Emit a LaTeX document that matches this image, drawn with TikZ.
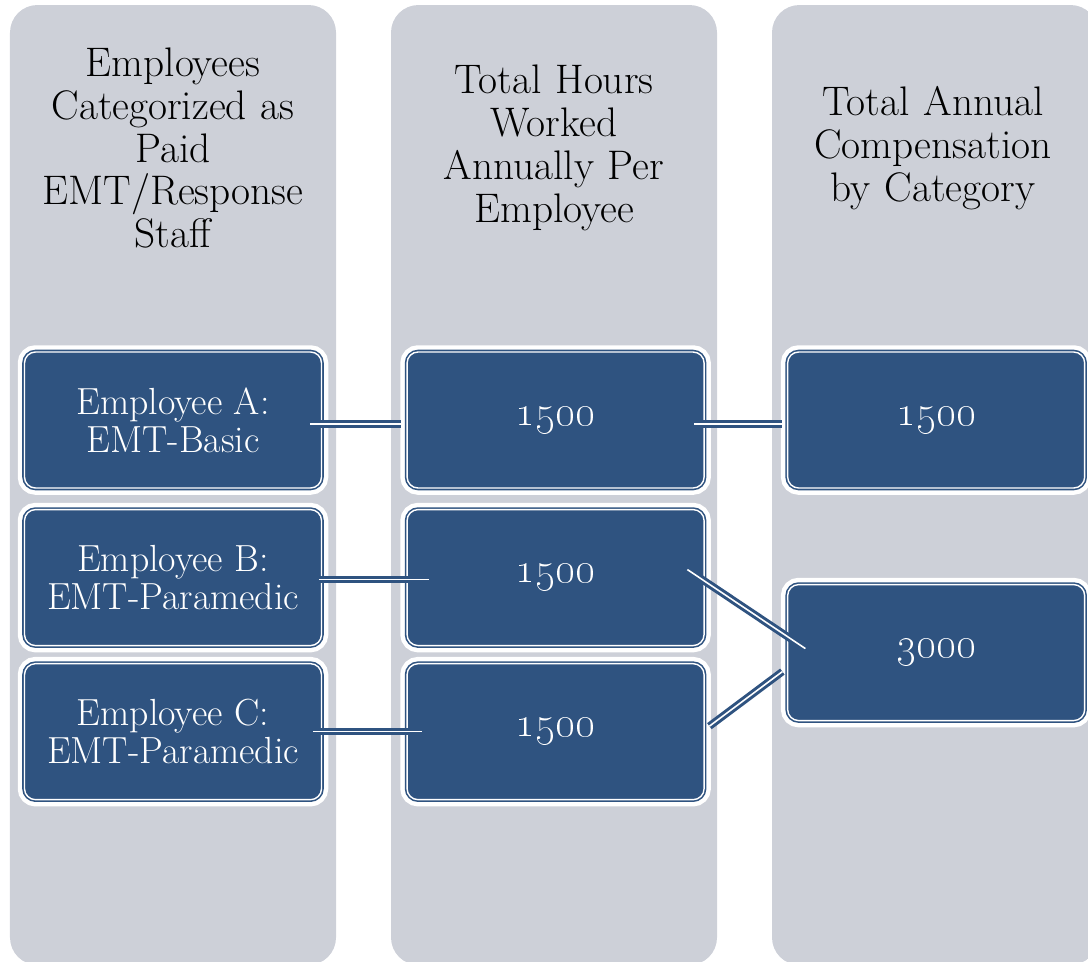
\documentclass[tikz,border=0pt]{standalone}
\usetikzlibrary{positioning}
\definecolor{boxblue}{RGB}{47,83,128}
\definecolor{colgray}{RGB}{205,208,216}
\tikzset{
    column/.style={fill=colgray, rounded corners=0.55cm},
    header/.style={align=center, text width=6.4cm, font=\fontsize{23.5}{24.4}\selectfont},
    item/.style={draw=boxblue, double=white, double distance=0.8pt, line width=0.9pt,
        fill=boxblue, rounded corners=0.22cm, minimum width=5.94cm, minimum height=2.72cm,
        text=white, align=center, font=\fontsize{21.5}{21.5}\selectfont,
        preaction={draw=white, line width=0.27cm}},
    num/.style={item, font=\fontsize{24}{24}\selectfont},
    link/.style={draw=boxblue, double=white, double distance=0.9pt, line width=1.7pt}
}
\begin{document}
\begin{tikzpicture}
    \useasboundingbox (0,0) rectangle (21.76,-19.22);
    \fill[column] (0.2,-0.1) rectangle (6.72,-19.3);
    \fill[column] (7.82,-0.1) rectangle (14.34,-19.3);
    \fill[column] (15.44,-0.1) rectangle (21.96,-19.3);

    \node(h1) [header] at (3.46,-2.96) {Employees\\Categorized as\\Paid\\EMT/Response\\Staff};
    \node(h2) [header] at (11.08,-2.96) {Total Hours\\Worked\\Annually Per\\Employee};
    \node(h3) [header] at (18.66,-2.96) {Total Annual\\Compensation\\by Category};

    \node(a) [item] at (3.46,-8.4) {Employee A:\\EMT-Basic};
    \node(b) [item, below=0.4cm of a] {Employee B:\\EMT-Paramedic};
    \node(c) [item, below=0.33cm of b] {Employee C:\\EMT-Paramedic};

    \node(a2) [num, right=1.68cm of a] {\oldstylenums{1500}};
    \node(b2) [num, right=1.68cm of b] {\oldstylenums{1500}};
    \node(c2) [num, right=1.68cm of c] {\oldstylenums{1500}};

    \node(a3) [num, right=1.64cm of a2] {\oldstylenums{1500}};
    \node(bc3) [num, right=1.64cm of b2, yshift=-1.5cm] {\oldstylenums{3000}};

    \draw[link] ([xshift=-0.25cm, yshift=-0.08cm]a.east) -- ([xshift=-0.11cm, yshift=-0.08cm]a2.west);
    \draw[link] ([xshift=-0.07cm, yshift=-0.04cm]b.east) -- ([xshift=0.45cm, yshift=-0.04cm]b2.west);
    \draw[link] ([xshift=-0.19cm]c.east) -- ([xshift=0.31cm]c2.west);
    \draw[link] ([xshift=-0.21cm, yshift=-0.08cm]a2.east) -- ([xshift=-0.09cm, yshift=-0.08cm]a3.west);
    \draw[link] ([xshift=-0.35cm, yshift=0.16cm]b2.east) -- ([xshift=0.37cm, yshift=0.08cm]bc3.west);
    \draw[link] ([xshift=0.09cm, yshift=0.11cm]c2.east) -- ([xshift=-0.09cm, yshift=-0.38cm]bc3.west);
\end{tikzpicture}
\end{document}
